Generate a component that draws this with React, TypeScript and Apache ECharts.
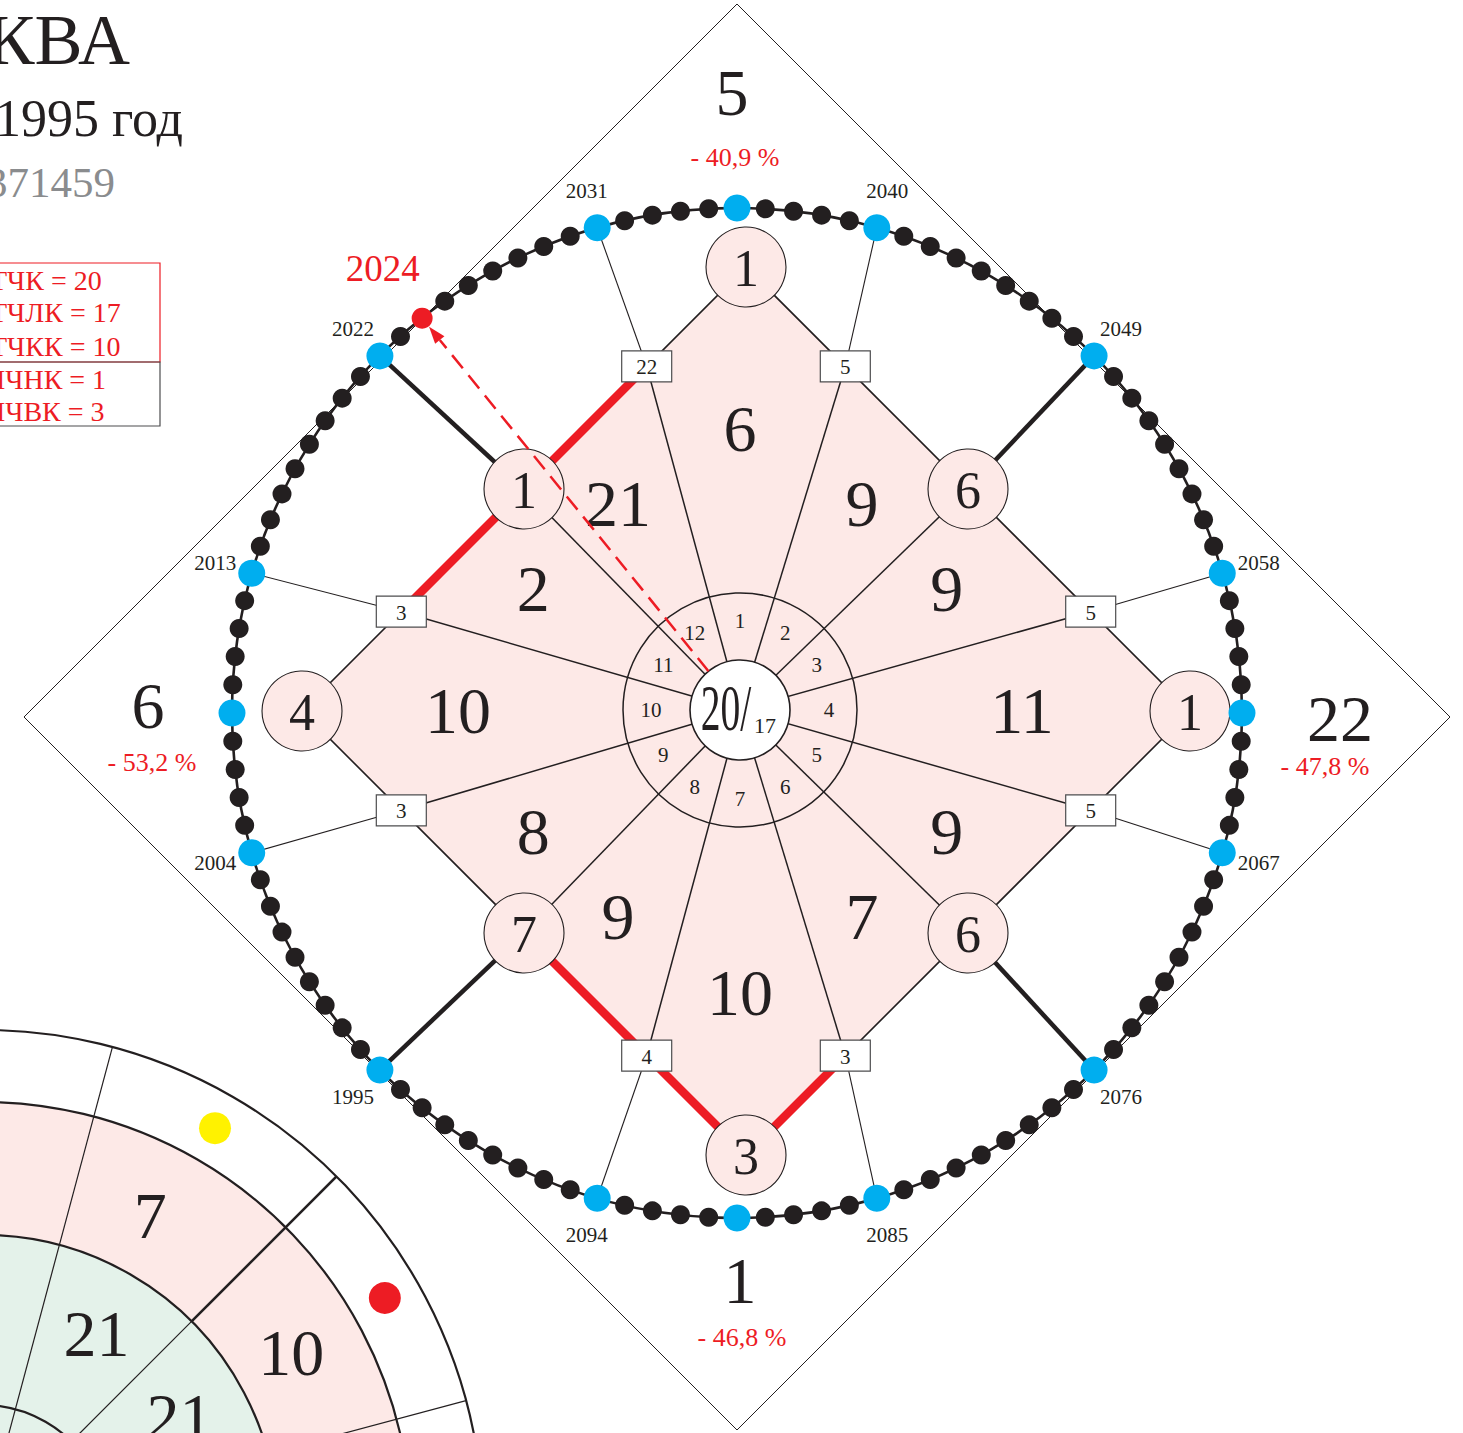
import React, { useEffect, useRef } from "react";
import * as echarts from "echarts";

// ---------------- values ----------------
const titleName = "КВА";
const titleDate = "1995 год";
const titleCode = "371459";
const legendTop = ["ТЧК = 20", "ТЧЛК = 17", "ТЧКК = 10"];
const legendBottom = ["ПЧНК = 1", "ПЧВК = 3"];

const centerMain = "20/";
const centerSub = "17";

const dialNumbers = [1, 2, 3, 4, 5, 6, 7, 8, 9, 10, 11, 12];
const sectorValues = [6, 9, 9, 11, 9, 7, 10, 9, 8, 10, 2, 21];

// spokes, clockwise starting just left of the top vertex
const spokeYears = [2031, 2040, 2049, 2058, 2067, 2076, 2085, 2094, 1995, 2004, 2013, 2022];
const spokeValues = [22, 5, 6, 5, 5, 6, 3, 4, 7, 3, 3, 1];

const vertexValues = [1, 1, 3, 4]; // top, right, bottom, left
const outerValues = [5, 22, 1, 6];
const outerPercents = ["- 40,9 %", "- 47,8 %", "- 46,8 %", "- 53,2 %"];

const cycleStart = 1995;
const cycleLength = 108;
const yearStep = 9;
const quarterMarkersAfter = [2008, 2035, 2062, 2089];
const currentYear = 2024;
const redRoutes: (number | string)[][] = [[2013, 2031], [1995, "bottom", 2085]];

const sideDotColors = ["#fff200", "#ed1c24"];
const sidePinkValues = [7, 10];
const sideGreenValues = [21, 21];

// ---------------- layout & style ----------------
const X_MIN = -737, X_MAX = 726, Y_MIN = -720, Y_MAX = 713;
const O = [0, 0];
const RING_R = 505;
const START_ANGLE = 225;
const IC = [9, 2]; // inner diamond centre
const DC = [3, 3]; // dial centre
const HALF = 444;
const SIDES = [90, 0, -90, 180];
const CORE_R = 50, DIAL_R = 117, DIAL_LABEL_R = 89;
const BIG_R_AXIS = 282, BIG_R_DIAG = 240;
const NODE_R = 40;
const BOX_W = 50, BOX_H = 31;
const OUTER_C = [0, -4], OUTER_HALF = 713;
const outerNumberPos = [[-5, 621], [603, -5], [3, -567], [-589, 8]];
const outerPercentPos = [[-2, 556], [588, -53], [5, -624], [-585, -49]];
const YEAR_LABEL_R = 543, CURRENT_LABEL_R = 568;
const SIDE_C = [-754, -817];
const SIDE_RADII = [500, 428, 295, 125];
const SIDE_SPOKES = [75, 45, 15];
const SIDE_MIDS = [60, 30];
const SIDE_PINK_ANGLES = [62, 30];

const INK = "#231f20", RED = "#ed1c24", BLUE = "#00aeef", PINK = "#fde9e7", GREEN = "#e4f2ea", GREY = "#8a8c8e";
const SERIF = "'Liberation Serif', 'Times New Roman', serif";

// ---------------- geometry helpers ----------------
const RAD = Math.PI / 180;
const pol = (c: number[], r: number, a: number) => [c[0] + r * Math.cos(a * RAD), c[1] + r * Math.sin(a * RAD)];
const ringSlots: (number | null)[] = [];
for (let k = 0; k < cycleLength; k++) {
  const y = cycleStart + k;
  ringSlots.push(y);
  if (quarterMarkersAfter.includes(y)) ringSlots.push(null);
}
const slotAngle = (i: number) => START_ANGLE - (i * 360) / ringSlots.length;
const yearAngle = (y: number) => slotAngle(ringSlots.indexOf(y));
const dotAt = (y: number) => pol(O, RING_R, yearAngle(y));
const onDiamond = (a: number) => {
  const c = Math.cos(a * RAD), s = Math.sin(a * RAD);
  const r = HALF / (Math.abs(c) + Math.abs(s));
  return [IC[0] + r * c, IC[1] + r * s];
};
const vertexAt = (k: number) => onDiamond(SIDES[k]);
const isHub = (y: number) => (y - cycleStart) % (yearStep * 3) === 0;
const sectorMid = (i: number) => {
  const a1 = yearAngle(spokeYears[i]);
  let a2 = yearAngle(spokeYears[(i + 1) % spokeYears.length]);
  while (a2 > a1) a2 -= 360;
  return (a1 + a2) / 2;
};
const isAxisSector = (i: number) => {
  const m = ((sectorMid(i) % 90) + 90) % 90;
  return m < 2 || m > 88;
};

const txt = (p: number[], text: any, size: number, color = INK, extra: any = {}, align = "center") => ({
  type: "text",
  x: p[0],
  y: p[1],
  ...extra,
  style: {
    text: String(text),
    font: `${size}px ${SERIF}`,
    fill: color,
    align,
    verticalAlign: "middle",
    textAlign: align,
    textVerticalAlign: "middle",
  },
});
const seg = (a: number[], b: number[], stroke: string, lineWidth: number, extra: any = {}) => ({
  type: "line",
  shape: { x1: a[0], y1: a[1], x2: b[0], y2: b[1] },
  style: { stroke, lineWidth, ...extra },
});

function single(name: string, draw: (P: any, S: any) => any[]) {
  return {
    type: "custom",
    name,
    coordinateSystem: "cartesian2d",
    silent: true,
    clip: false,
    data: [[0, 0]],
    renderItem: (_p: any, api: any) => {
      const P = (pt: number[]) => api.coord(pt);
      const S = (r: number) => api.size([r, 0])[0];
      return { type: "group", children: draw(P, S) };
    },
  };
}
function itemSeries(name: string, data: number[][], draw: (api: any, P: any, S: any, i: number) => any[]) {
  return {
    type: "custom",
    name,
    coordinateSystem: "cartesian2d",
    silent: true,
    clip: false,
    data,
    encode: { x: 0, y: 1 },
    renderItem: (params: any, api: any) => {
      const P = (pt: number[]) => api.coord(pt);
      const S = (r: number) => api.size([r, 0])[0];
      return { type: "group", children: draw(api, P, S, params.dataIndex) };
    },
  };
}

function buildOption() {
  const series: any[] = [];

  // partial neighbouring chart (bottom-left)
  series.push(
    single("side", (P, S) => {
      const c = P(SIDE_C);
      const kids: any[] = [];
      kids.push({ type: "ring", shape: { cx: c[0], cy: c[1], r: S(SIDE_RADII[1]), r0: S(SIDE_RADII[2]) }, style: { fill: PINK } });
      kids.push({ type: "circle", shape: { cx: c[0], cy: c[1], r: S(SIDE_RADII[2]) }, style: { fill: GREEN } });
      SIDE_SPOKES.forEach((a, k) => {
        if (k === 1) {
          kids.push(seg(c, P(pol(SIDE_C, SIDE_RADII[2], a)), INK, 1.2));
          kids.push(seg(P(pol(SIDE_C, SIDE_RADII[2], a)), P(pol(SIDE_C, SIDE_RADII[0], a)), INK, 2.6));
        } else {
          kids.push(seg(c, P(pol(SIDE_C, SIDE_RADII[0], a)), INK, 1.2));
        }
      });
      SIDE_RADII.forEach((r) =>
        kids.push({ type: "circle", shape: { cx: c[0], cy: c[1], r: S(r) }, style: { fill: "none", stroke: INK, lineWidth: 2.2 } })
      );
      SIDE_MIDS.forEach((a, k) => {
        const d = P(pol(SIDE_C, 464, a));
        kids.push({ type: "circle", shape: { cx: d[0], cy: d[1], r: 16 }, style: { fill: sideDotColors[k] } });
        kids.push(txt(P(pol(SIDE_C, 356, SIDE_PINK_ANGLES[k])), sidePinkValues[k], 66));
        kids.push(txt(P(pol(SIDE_C, 227, a)), sideGreenValues[k], 66));
      });
      return kids;
    })
  );

  // outer diamond
  series.push(
    single("outer", (P) => [
      {
        type: "polygon",
        shape: { points: SIDES.map((a) => P(pol(OUTER_C, OUTER_HALF, a))) },
        style: { fill: "none", stroke: INK, lineWidth: 1 },
      },
    ])
  );

  // year ring line
  series.push(
    single("ringLine", (P, S) => {
      const c = P(O);
      return [{ type: "circle", shape: { cx: c[0], cy: c[1], r: S(RING_R) }, style: { fill: "none", stroke: INK, lineWidth: 2.6 } }];
    })
  );

  // inner diamond
  series.push(
    single("inner", (P) => [
      {
        type: "polygon",
        shape: { points: SIDES.map((_a, k) => P(vertexAt(k))) },
        style: { fill: PINK, stroke: INK, lineWidth: 1.6 },
      },
    ])
  );

  // spokes from the centre
  series.push(
    itemSeries(
      "spokes",
      spokeYears.map((y) => onDiamond(yearAngle(y))),
      (api, P) => [seg(P(DC), P([api.value(0), api.value(1)]), INK, 1.5)]
    )
  );

  // connectors to the year ring
  series.push(
    itemSeries(
      "connectors",
      spokeYears.map((y) => {
        const e = onDiamond(yearAngle(y));
        const d = dotAt(y);
        return [e[0], e[1], d[0], d[1], isHub(y) ? 1 : 0];
      }),
      (api, P) => [
        seg(P([api.value(0), api.value(1)]), P([api.value(2), api.value(3)]), INK, api.value(4) ? 4.5 : 1.1),
      ]
    )
  );

  // red routes along the diamond
  series.push(
    single("routes", (P) =>
      redRoutes.map((route) => ({
        type: "polyline",
        shape: {
          points: route.map((stop) => P(stop === "bottom" ? vertexAt(2) : onDiamond(yearAngle(stop as number)))),
        },
        style: { fill: "none", stroke: RED, lineWidth: 8.5 },
      }))
    )
  );

  // dial
  series.push(
    single("dial", (P, S) => {
      const c = P(DC);
      return [
        { type: "circle", shape: { cx: c[0], cy: c[1], r: S(DIAL_R) }, style: { fill: "none", stroke: INK, lineWidth: 1.5 } },
        { type: "circle", shape: { cx: c[0], cy: c[1], r: S(CORE_R) }, style: { fill: "#ffffff", stroke: INK, lineWidth: 1.6 } },
        txt(P([DC[0] - 14, DC[1] + 2]), centerMain, 66, INK, { scaleX: 0.6 }),
        txt(P([DC[0] + 25, DC[1] - 15]), centerSub, 22),
      ];
    })
  );

  series.push(
    itemSeries(
      "dialNumbers",
      dialNumbers.map((n, i) => [...pol(DC, DIAL_LABEL_R, sectorMid(i)), n]),
      (api, P) => [txt(P([api.value(0), api.value(1)]), api.value(2), 21)]
    )
  );

  series.push(
    itemSeries(
      "sectorValues",
      sectorValues.map((v, i) => [...pol(DC, isAxisSector(i) ? BIG_R_AXIS : BIG_R_DIAG, sectorMid(i)), v]),
      (api, P) => [txt(P([api.value(0), api.value(1)]), api.value(2), 66)]
    )
  );

  // circles: diamond vertices and hub spokes
  const nodeData: number[][] = vertexValues.map((v, k) => [...vertexAt(k), v]);
  spokeYears.forEach((y, i) => {
    if (isHub(y)) nodeData.push([...onDiamond(yearAngle(y)), spokeValues[i]]);
  });
  series.push(
    itemSeries("nodes", nodeData, (api, P, S) => {
      const c = P([api.value(0), api.value(1)]);
      return [
        { type: "circle", shape: { cx: c[0], cy: c[1], r: S(NODE_R) }, style: { fill: PINK, stroke: INK, lineWidth: 1.1 } },
        txt([c[0], c[1] + 1], api.value(2), 52),
      ];
    })
  );

  // boxes
  const boxData: number[][] = [];
  spokeYears.forEach((y, i) => {
    if (!isHub(y)) boxData.push([...onDiamond(yearAngle(y)), spokeValues[i]]);
  });
  series.push(
    itemSeries("boxes", boxData, (api, P, S) => {
      const c = P([api.value(0), api.value(1)]);
      const w = S(BOX_W), h = S(BOX_H);
      return [
        { type: "rect", shape: { x: c[0] - w / 2, y: c[1] - h / 2, width: w, height: h }, style: { fill: "#ffffff", stroke: "#4d4d4f", lineWidth: 1.2 } },
        txt([c[0], c[1] + 1], api.value(2), 21),
      ];
    })
  );

  // red dashed arrow to the current year
  series.push(
    single("arrow", (P) => {
      const d = dotAt(currentYear);
      const dx = d[0] - DC[0], dy = d[1] - DC[1];
      const len = Math.hypot(dx, dy);
      const u = [dx / len, dy / len];
      const start = [DC[0] + u[0] * CORE_R, DC[1] + u[1] * CORE_R];
      const tip = [d[0] - u[0] * 11, d[1] - u[1] * 11];
      const base = [tip[0] - u[0] * 17, tip[1] - u[1] * 17];
      const perp = [-u[1], u[0]];
      return [
        seg(P(start), P(base), RED, 2.5, { lineDash: [17, 9] }),
        {
          type: "polygon",
          shape: {
            points: [P(tip), P([base[0] + perp[0] * 6, base[1] + perp[1] * 6]), P([base[0] - perp[0] * 6, base[1] - perp[1] * 6])],
          },
          style: { fill: RED },
        },
      ];
    })
  );

  // year dots
  series.push({
    type: "scatter",
    silent: true,
    symbol: "circle",
    data: ringSlots.map((y, i) => {
      const p = pol(O, RING_R, slotAngle(i));
      let color = INK, size = 19;
      if (y === null || (y - cycleStart) % yearStep === 0) {
        color = BLUE;
        size = 27;
      } else if (y === currentYear) {
        color = RED;
        size = 21;
      }
      return { value: p, symbolSize: size, itemStyle: { color, opacity: 1 } };
    }),
  });

  // year labels
  series.push(
    itemSeries(
      "yearLabels",
      spokeYears.map((y) => [...pol(O, YEAR_LABEL_R, yearAngle(y)), y]),
      (api, P) => [txt(P([api.value(0), api.value(1)]), api.value(2), 21)]
    )
  );
  series.push(
    single("currentYear", (P) => [txt(P(pol(O, CURRENT_LABEL_R, yearAngle(currentYear))), currentYear, 37, RED)])
  );

  // outer side values
  series.push(
    itemSeries(
      "outerValues",
      outerValues.map((v, i) => [outerNumberPos[i][0], outerNumberPos[i][1], v, i]),
      (api, P) => {
        const i = api.value(3);
        return [
          txt(P([api.value(0), api.value(1)]), api.value(2), 66),
          txt(P(outerPercentPos[i]), outerPercents[i], 26, RED),
        ];
      }
    )
  );

  const gtext = (x: number, y: number, text: string, size: number, color: string, align: string) => ({
    type: "text",
    x,
    y,
    silent: true,
    style: {
      text,
      font: `${size}px ${SERIF}`,
      fill: color,
      align,
      verticalAlign: "middle",
      textAlign: align,
      textVerticalAlign: "middle",
    },
  });

  const graphic: any[] = [
    gtext(130, 40, titleName, 72, INK, "right"),
    gtext(183, 118, titleDate, 52, INK, "right"),
    gtext(115, 182, titleCode, 43, GREY, "right"),
    { type: "rect", shape: { x: -20, y: 263, width: 180, height: 99 }, style: { fill: "none", stroke: RED, lineWidth: 1.2 } },
    { type: "rect", shape: { x: -20, y: 362, width: 180, height: 64 }, style: { fill: "none", stroke: "#4d4d4f", lineWidth: 1.2 } },
  ];
  const rowsY = [280, 312, 346, 379, 411];
  legendTop.forEach((t, k) => graphic.push(gtext(-10, rowsY[k], t, 28, RED, "left")));
  legendBottom.forEach((t, k) => graphic.push(gtext(-15, rowsY[3 + k], t, 28, RED, "left")));

  return {
    animation: false,
    backgroundColor: "#ffffff",
    grid: { left: 0, right: 0, top: 0, bottom: 0, containLabel: false },
    xAxis: { type: "value", min: X_MIN, max: X_MAX, show: false },
    yAxis: { type: "value", min: Y_MIN, max: Y_MAX, show: false },
    graphic,
    series,
  };
}

export default function App() {
  const ref = useRef<HTMLDivElement>(null);
  useEffect(() => {
    const chart = echarts.init(ref.current as HTMLDivElement, undefined, { renderer: "svg" });
    chart.setOption(buildOption() as any);
    return () => chart.dispose();
  }, []);
  return (
    <div
      ref={ref}
      style={{ position: "absolute", left: 0, top: 0, width: 1463, height: 1433, background: "#ffffff" }}
    />
  );
}
